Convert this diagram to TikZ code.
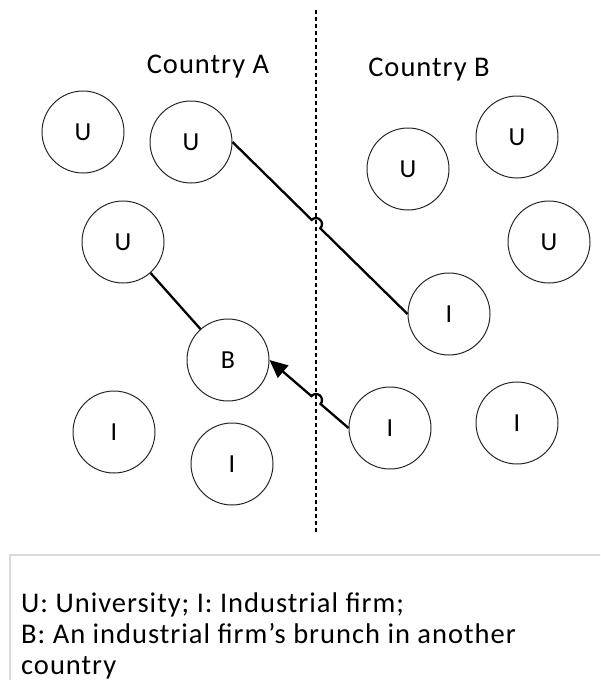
\documentclass[tikz,border=0pt]{standalone}
\usepackage{fontspec}
\setmainfont{Carlito}[LetterSpace=3.5]
\newfontfamily\lblfont{Carlito}
\usetikzlibrary{arrows.meta,calc,intersections}
\begin{document}
\begin{tikzpicture}[x=1pt,y=-1pt,
  unit/.style={circle,draw=black!85,line width=1pt,minimum size=82pt,inner sep=0pt,font=\lblfont\fontsize{26}{26}\selectfont},
  conn/.style={line width=2.3pt,black},
  divider/.style={line width=2.2pt,dash pattern=on 4pt off 3pt},
  country/.style={font=\fontsize{28.5}{28.5}\selectfont,anchor=base,inner sep=0pt},
  legend/.style={font=\fontsize{28.5}{28.5}\selectfont,anchor=base west,inner sep=0pt},
  legbox/.style={draw=black!15,line width=1.2pt}]
\useasboundingbox (0,0) rectangle (600,680);
\clip (0,0) rectangle (600,680);
% country A
\node[unit] (uA1) at (83,132) {U};
\node[unit] (uA2) at (191,142) {U};
\node[unit] (uA3) at (123,242) {U};
\node[unit] (b)   at (228,360) {B};
\node[unit] (iA1) at (114,432) {I};
\node[unit] (iA2) at (232,464) {I};
% country B
\node[unit] (uB1) at (408,169) {U};
\node[unit] (uB2) at (517,137) {U};
\node[unit] (uB3) at (549,242) {U};
\node[unit] (iB1) at (449,314) {I};
\node[unit] (iB2) at (390,428) {I};
\node[unit] (iB3) at (517,423) {I};
% labels
\node[country] (ca) at (208,73) {Country A};
\node[country] (cb) at (429,76) {Country B};
% divider
\coordinate (dtop) at (316,10);
\coordinate (dbot) at (316,533);
\draw[divider,name path=div] (dtop) -- (dbot);
% connectors with jumps
\path[name path=l1] (uA2.east) -- (iB1.west);
\path[name intersections={of=l1 and div,by=x1}];
\draw[conn] let \p1=($(iB1.west)-(uA2.east)$), \n1={atan2(\y1,\x1)} in
  (uA2.east) -- ($(x1)!6pt!(uA2.east)$) arc[start angle=\n1+180,end angle=\n1,radius=6pt] -- (iB1.west);
\path[name path=l2] (iB2.west) -- (b.east);
\path[name intersections={of=l2 and div,by=x2}];
\draw[conn,-{Triangle[length=18pt,width=16pt]}] let \p1=($(b.east)-(iB2.west)$), \n1={atan2(\y1,\x1)} in
  (iB2.west) -- ($(x2)!6pt!(iB2.west)$) arc[start angle=\n1-180,end angle=\n1,radius=6pt] -- (b.east);
\draw[conn] (uA3) -- (b);
% legend
\draw[legbox] (10,555) rectangle (640,720);
\node[legend] (l1) at (21,612) {U: University; I: Industrial firm;};
\node[legend] (l2) at (21,643) {B: An industrial firm’s brunch in another};
\node[legend] (l3) at (21,674) {country};
\end{tikzpicture}
\end{document}
